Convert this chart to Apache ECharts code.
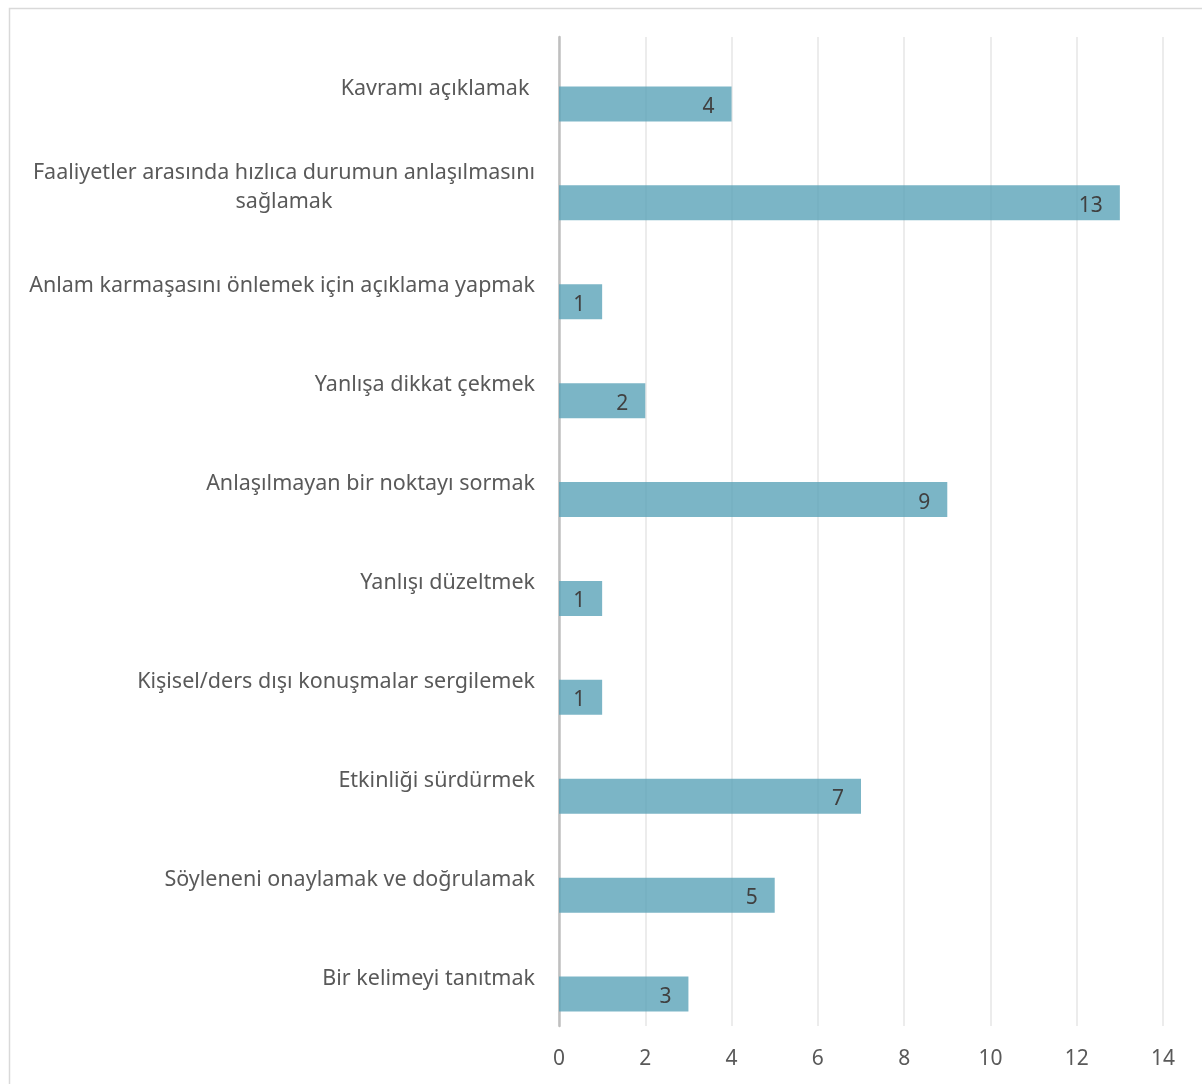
<!DOCTYPE html>
<html>
<head>
<meta charset="utf-8">
<script src="https://cdn.jsdelivr.net/npm/echarts@6/dist/echarts.min.js"></script>
<style>
html,body{margin:0;padding:0;background:#fff;}
#chart{width:1202px;height:1084px;}
</style>
</head>
<body>
<div id="chart"></div>
<script>
const categories = [
  'Kavramı açıklamak ',
  'Faaliyetler arasında hızlıca durumun anlaşılmasını\nsağlamak',
  'Anlam karmaşasını önlemek için açıklama yapmak',
  'Yanlışa dikkat çekmek',
  'Anlaşılmayan bir noktayı sormak',
  'Yanlışı düzeltmek',
  'Kişisel/ders dışı konuşmalar sergilemek',
  'Etkinliği sürdürmek',
  'Söyleneni onaylamak ve doğrulamak',
  'Bir kelimeyi tanıtmak'
];
const values = [4, 13, 1, 2, 9, 1, 1, 7, 5, 3];
const xTicks = [0, 2, 4, 6, 8, 10, 12, 14];

const FONT = '"Noto Sans", sans-serif';
const chart = echarts.init(document.getElementById('chart'), null, {renderer: 'canvas'});
chart.setOption({
  animation: false,
  backgroundColor: '#ffffff',
  graphic: [{
    type: 'rect',
    shape: {x: 9.5, y: 8.5, width: 1400, height: 1300},
    style: {fill: 'none', stroke: '#d9d9d9', lineWidth: 1.5},
    silent: true
  }],
  grid: {left: 559, right: 39, top: 37, bottom: 58, containLabel: false},
  xAxis: {
    type: 'value',
    min: xTicks[0],
    max: xTicks[xTicks.length - 1],
    interval: 2,
    axisLine: {show: false},
    axisTick: {show: false},
    splitLine: {lineStyle: {color: '#e6e6e6', width: 1.5}},
    axisLabel: {fontSize: 21, color: '#595959', fontFamily: FONT, margin: 23}
  },
  yAxis: {
    type: 'category',
    inverse: true,
    data: categories,
    axisLine: {lineStyle: {color: '#bfbfbf', width: 2.5}},
    axisTick: {show: false},
    axisLabel: {
      margin: 24,
      color: '#595959',
      fontSize: 21.5,
      fontFamily: FONT,
      lineHeight: 29,
      padding: [4, 0, 0, 0],
      formatter: function (v) {
        return v.split('\n').map(function (l) { return '{c|' + l + '}'; }).join('\n');
      },
      rich: {c: {align: 'center', fontSize: 21.5, color: '#595959', fontFamily: FONT, lineHeight: 29}}
    }
  },
  series: [
    {
      type: 'bar',
      name: 'spacer',
      data: values.map(function () { return '-'; }),
      barWidth: 35,
      barGap: '0%',
      silent: true
    },
    {
      type: 'bar',
      name: 'values',
      data: values,
      barWidth: 35,
      barGap: '0%',
      itemStyle: {color: 'rgba(90,163,184,0.8)'},
      label: {
        show: true,
        position: 'insideRight',
        distance: 17,
        offset: [0, 3],
        fontSize: 21,
        color: '#404040',
        fontFamily: FONT
      }
    }
  ]
});
</script>
</body>
</html>
